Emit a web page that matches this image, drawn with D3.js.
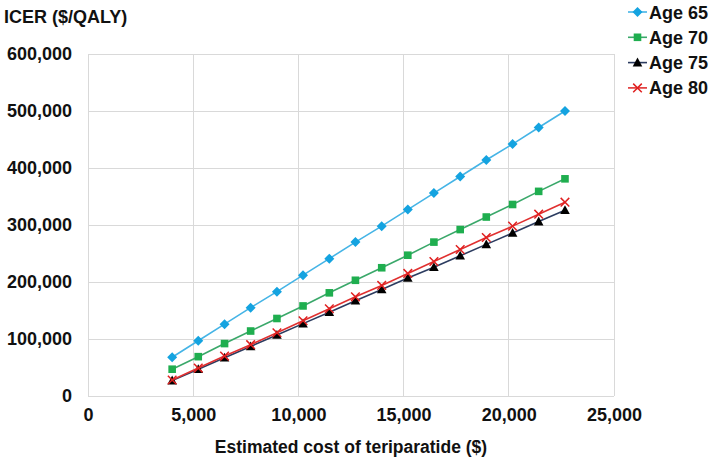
<!DOCTYPE html>
<html><head><meta charset="utf-8">
<script src="https://cdn.jsdelivr.net/npm/d3@7"></script>
<style>body{margin:0;background:#fff}svg{display:block;font-family:Arial,"Liberation Sans",sans-serif}</style>
</head><body>
<svg id="c" width="709" height="463"></svg>
<script>
const costs = [4000, 5240, 6490, 7730, 8980, 10220, 11470, 12710, 13960, 15200, 16440, 17690, 18930, 20180, 21420, 22670];
const age65 = [68000, 97000, 126000, 155000, 183000, 212000, 241000, 270000, 298000, 327000, 356000, 385000, 414000, 442000, 471000, 500000];
const age70 = [47000, 69000, 92000, 114000, 136000, 158000, 181000, 203000, 225000, 247000, 270000, 292000, 314000, 336000, 359000, 381000];
const age75 = [27000, 47000, 67000, 87000, 107000, 127000, 147000, 167000, 187000, 207000, 226000, 246000, 266000, 286000, 306000, 326000];
const age80 = [28000, 49000, 70000, 90000, 111000, 132000, 153000, 174000, 194000, 215000, 236000, 257000, 278000, 298000, 319000, 340000];
const seriesNames = ["Age 65", "Age 70", "Age 75", "Age 80"];
const xTicks = [0, 5000, 10000, 15000, 20000, 25000];
const yTicks = [0, 100000, 200000, 300000, 400000, 500000, 600000];

const series = [
  {name: seriesNames[0], vals: age65, line: "#45b4e6", fill: "#14a3e0", sym: "diamond"},
  {name: seriesNames[1], vals: age70, line: "#3aa86a", fill: "#1fae4f", sym: "square"},
  {name: seriesNames[2], vals: age75, line: "#2c3c60", fill: "#000000", sym: "triangle"},
  {name: seriesNames[3], vals: age80, line: "#e03030", fill: "#e02020", sym: "x"}
];

const svg = d3.select("#c");
const x = d3.scaleLinear().domain([0, 25000]).range([88, 614]);
const y = d3.scaleLinear().domain([0, 600000]).range([396, 54]);
const fmt = d3.format(",");
const grid = "#d9d9d9";
const FONT = "Arial,'Liberation Sans',sans-serif";

svg.append("g").selectAll("line").data(yTicks).join("line")
  .attr("x1", x(0)).attr("x2", x(25000)).attr("y1", d => y(d)).attr("y2", d => y(d))
  .attr("stroke", grid).attr("stroke-width", 1).attr("shape-rendering", "crispEdges");
svg.append("g").selectAll("line").data(xTicks).join("line")
  .attr("y1", y(0)).attr("y2", y(600000)).attr("x1", d => x(d)).attr("x2", d => x(d))
  .attr("stroke", grid).attr("stroke-width", 1).attr("shape-rendering", "crispEdges");

const xAxis = svg.append("g").attr("transform", `translate(0,${y(0)})`)
  .call(d3.axisBottom(x).tickValues(xTicks).tickFormat(fmt).tickSize(0).tickPadding(12));
xAxis.select(".domain").remove();
xAxis.selectAll("text").attr("font-size", 18).attr("font-weight", "bold").attr("fill", "#111").attr("font-family", FONT);

const yAxis = svg.append("g").attr("transform", `translate(${x(0)},0)`)
  .call(d3.axisLeft(y).tickValues(yTicks).tickFormat(fmt).tickSize(0).tickPadding(16));
yAxis.select(".domain").remove();
yAxis.selectAll("text").attr("font-size", 18).attr("font-weight", "bold").attr("fill", "#111").attr("font-family", FONT);

svg.append("text").attr("x", 4).attr("y", 23).text("ICER ($/QALY)")
  .attr("font-size", 18).attr("font-weight", "bold").attr("fill", "#111");
svg.append("text").attr("x", 351).attr("y", 453).attr("text-anchor", "middle")
  .text("Estimated cost of teriparatide ($)")
  .attr("font-size", 17.5).attr("font-weight", "bold").attr("fill", "#111");

function drawMarker(g, s, cx, cy) {
  if (s.sym === "diamond") {
    g.append("path").attr("d", `M${cx},${cy-5}L${cx+5},${cy}L${cx},${cy+5}L${cx-5},${cy}Z`).attr("fill", s.fill);
  } else if (s.sym === "square") {
    g.append("rect").attr("x", cx-3.8).attr("y", cy-3.8).attr("width", 7.6).attr("height", 7.6).attr("fill", s.fill);
  } else if (s.sym === "triangle") {
    g.append("path").attr("d", `M${cx},${cy-5}L${cx+4.8},${cy+3.8}L${cx-4.8},${cy+3.8}Z`).attr("fill", s.fill);
  } else {
    g.append("path").attr("d", `M${cx-4.3},${cy-4.3}L${cx+4.3},${cy+4.3}M${cx-4.3},${cy+4.3}L${cx+4.3},${cy-4.3}`)
      .attr("stroke", s.fill).attr("stroke-width", 1.5).attr("fill", "none");
  }
}

const line = d3.line().x(d => x(d[0])).y(d => y(d[1]));
series.forEach(s => {
  const pts = costs.map((c, i) => [c, s.vals[i]]);
  const g = svg.append("g");
  g.append("path").attr("d", line(pts)).attr("fill", "none").attr("stroke", s.line).attr("stroke-width", 1.6);
  pts.forEach(p => drawMarker(g, s, x(p[0]), y(p[1])));
});

series.forEach((s, i) => {
  const cy = 12 + i * 25.3;
  const g = svg.append("g");
  g.append("line").attr("x1", 628).attr("x2", 647).attr("y1", cy).attr("y2", cy).attr("stroke", s.line).attr("stroke-width", 1.6);
  drawMarker(g, s, 637.5, cy);
  g.append("text").attr("x", 649).attr("y", cy + 6.5).text(s.name)
    .attr("font-size", 18).attr("font-weight", "bold").attr("fill", "#111");
});
</script>
</body></html>
